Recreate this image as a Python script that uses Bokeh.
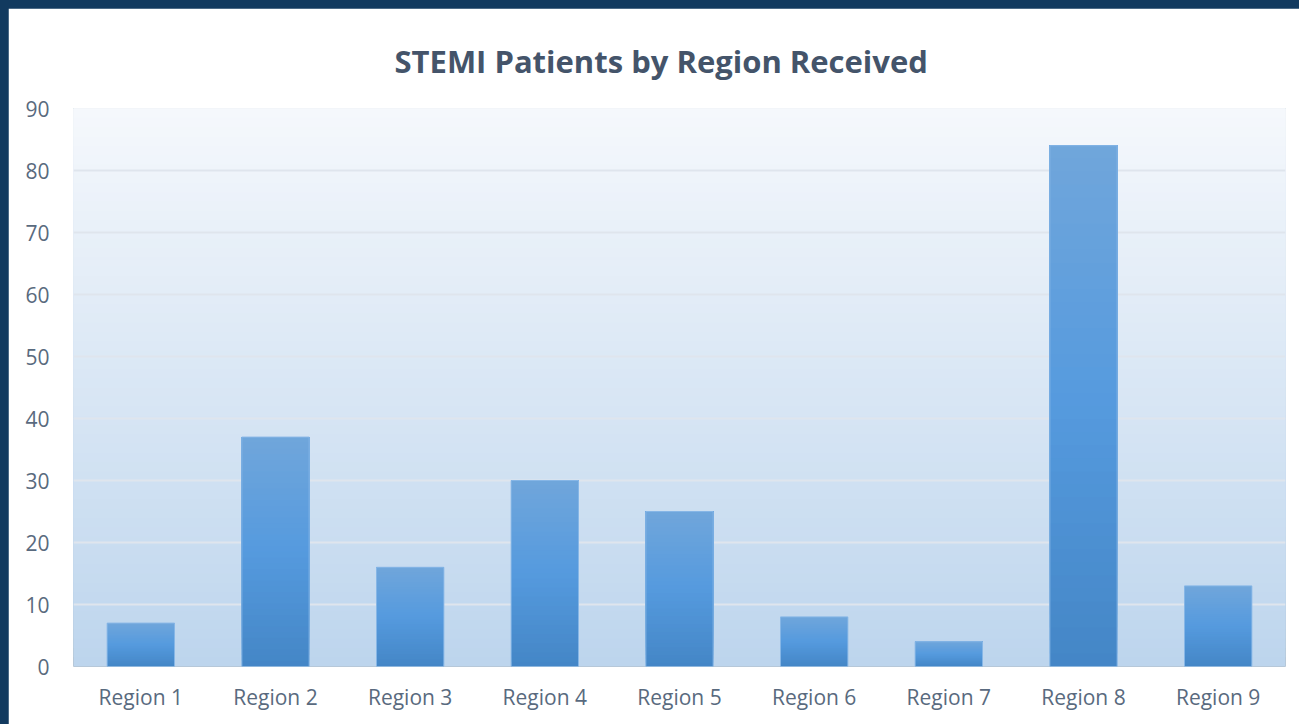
import numpy as np
from bokeh.plotting import figure
from bokeh.models import FactorRange, Range1d, BoxAnnotation, SingleIntervalTicker, Title, ColumnDataSource
from bokeh.embed import file_html
from bokeh.resources import INLINE

# ---- data ----
regions = ["Region 1", "Region 2", "Region 3", "Region 4", "Region 5",
           "Region 6", "Region 7", "Region 8", "Region 9"]
patients = [7, 37, 16, 30, 25, 8, 4, 84, 13]
y_max = 90
y_step = 10
title_text = "STEMI Patients by Region Received"

# ---- styling helpers ----
def hex2rgb(h):
    h = h.lstrip("#")
    return np.array([int(h[i:i + 2], 16) for i in (0, 2, 4)], dtype=float)

def rgb2hex(c):
    c = np.clip(np.round(c), 0, 255).astype(int)
    return "#%02x%02x%02x" % tuple(c)

def gradient(stops, t):
    for (p0, c0), (p1, c1) in zip(stops[:-1], stops[1:]):
        if t <= p1:
            f = (t - p0) / (p1 - p0) if p1 > p0 else 0
            return rgb2hex(hex2rgb(c0) * (1 - f) + hex2rgb(c1) * f)
    return stops[-1][1]

FONT = "Open Sans"
TICK_COLOR = "#596a7e"

p = figure(width=1291, height=716,
           x_range=FactorRange(factors=regions),
           y_range=Range1d(0, y_max),
           output_backend="svg", toolbar_location=None,
           min_border_left=65, min_border_right=14,
           min_border_top=100, min_border_bottom=58,
           border_fill_color="white", background_fill_color="#dfeaf6",
           outline_line_color=None)

# background vertical gradient of the plot area
bg_stops = [(0.0, "#bdd5ed"), (1.0, "#f5f8fc")]
NB = 60
for k in range(NB):
    y0 = y_max * k / NB
    p.add_layout(BoxAnnotation(bottom=y0, top=y_max,
                               fill_color=gradient(bg_stops, (k + 0.5) / NB),
                               fill_alpha=1.0, line_color=None, level="image"))

# bars with vertical gradient (overlapping slices to avoid seams)
bar_stops = [(0.0, "#4486c6"), (0.5, "#559ade"), (1.0, "#70a6db")]
NS = 40
for k in range(NS):
    frac = k / NS
    src = ColumnDataSource(dict(
        x=regions,
        bottom=[v * frac for v in patients],
        top=patients,
    ))
    p.vbar(x="x", bottom="bottom", top="top", width=0.5, source=src,
           fill_color=gradient(bar_stops, (k + 0.5) / NS), line_color=None)

# thin light outline of the bars
p.vbar(x=regions, top=patients, bottom=0, width=0.5,
       fill_color=None, line_color="#86b6e6", line_width=1)

# grid
p.xgrid.grid_line_color = None
p.ygrid.grid_line_color = "#dfe5ed"
p.ygrid.grid_line_width = 2

# axes
p.yaxis.ticker = SingleIntervalTicker(interval=y_step)
for ax in (p.xaxis[0], p.yaxis[0]):
    ax.axis_line_color = None
    ax.major_tick_line_color = None
    ax.minor_tick_line_color = None
    ax.major_label_text_font = FONT
    ax.major_label_text_font_size = "21px"
    ax.major_label_text_color = TICK_COLOR
p.yaxis.major_label_standoff = 18
p.xaxis.major_label_standoff = 10

p.add_layout(Title(text=title_text, align="left", offset=321, standoff=50,
                   vertical_align="top",
                   text_font=FONT, text_font_size="31px", text_font_style="bold",
                   text_color="#44546a"), "above")

html = file_html(p, INLINE, title="STEMI Patients by Region Received")
html = html.replace(
    "</head>",
    "<style>html,body{background:#123a5f;overflow:hidden;}"
    "body{margin:0;padding:8px 0 0 8px;}</style></head>", 1)
open("out.html", "w").write(html)
